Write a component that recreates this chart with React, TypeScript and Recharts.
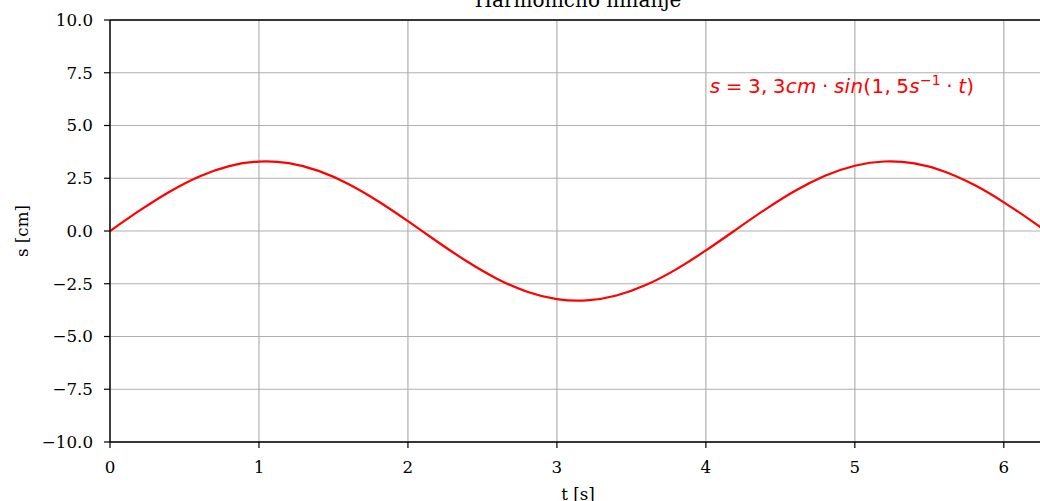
import React from 'react';
import { LineChart, Line, XAxis, YAxis, CartesianGrid, ReferenceLine, ReferenceDot, Label } from 'recharts';

const tValues = [0, 0.2, 0.4, 0.6, 0.8, 1.0, 1.2, 1.4, 1.6, 1.8, 2.0, 2.2, 2.4, 2.6, 2.8, 3.0, 3.2, 3.4, 3.6, 3.8, 4.0, 4.2, 4.4, 4.6, 4.8, 5.0, 5.2, 5.4, 5.6, 5.8, 6.0, 6.2, 6.28];
const sValues = [0, 0.975, 1.863, 2.585, 3.076, 3.292, 3.214, 2.849, 2.229, 1.41, 0.466, -0.521, -1.46, -2.27, -2.876, -3.226, -3.287, -3.055, -2.55, -1.817, -0.922, 0.055, 1.028, 1.909, 2.619, 3.095, 3.295, 3.201, 2.82, 2.188, 1.36, 0.411, 0.0];
const xTicks = [0, 1, 2, 3, 4, 5, 6];
const yTicks = [-10, -7.5, -5, -2.5, 0, 2.5, 5, 7.5, 10];
const titleText = 'Harmonično nihanje';
const xLabelText = 't [s]';
const yLabelText = 's [cm]';
const annotationPos = { t: 4, s: 6.55 };

const data = tValues.map((t, i) => ({ t, s: sValues[i] }));

const SERIF = '"DejaVu Serif", serif';
const SANS = '"DejaVu Sans", sans-serif';
const fmtY = (v: number) => v.toFixed(1).replace('-', '\u2212');
const SP = '\u2005';

export default function App() {
  return (
    <div style={{ position: 'absolute', left: 0, top: 0, width: 1040, height: 501, overflow: 'hidden', background: '#fff' }}>
      <LineChart width={1060} height={501} data={data} margin={{ top: 20, right: 14, bottom: 0, left: 0 }}>
        <CartesianGrid stroke="#b0b0b0" strokeWidth={1.2} />
        <XAxis
          dataKey="t"
          type="number"
          domain={[0, 6.2832]}
          ticks={xTicks}
          allowDataOverflow
          height={59}
          tickSize={6}
          tickMargin={13}
          stroke="#000"
          axisLine={{ stroke: '#000', strokeWidth: 1.4 }}
          tickLine={{ stroke: '#000', strokeWidth: 1.2 }}
          tick={{ fill: '#000', fontFamily: SERIF, fontSize: 16.7 }}
        >
          <Label
            content={(props: any) => {
              const vb = props.viewBox;
              return (
                <text x={vb.x + vb.width / 2} y={vb.y + 58} textAnchor="middle" fontFamily={SERIF} fontSize={16.7} fill="#000">
                  {xLabelText}
                </text>
              );
            }}
          />
        </XAxis>
        <YAxis
          type="number"
          domain={[-10, 10]}
          ticks={yTicks}
          width={110}
          tickSize={6}
          tickMargin={11}
          tickFormatter={fmtY}
          axisLine={{ stroke: '#000', strokeWidth: 1.4 }}
          tickLine={{ stroke: '#000', strokeWidth: 1.2 }}
          tick={{ fill: '#000', fontFamily: SERIF, fontSize: 16.7 }}
        >
          <Label
            content={(props: any) => {
              const vb = props.viewBox;
              const cx = 22;
              const cy = vb.y + vb.height / 2;
              return (
                <text x={cx} y={cy} transform={`rotate(-90 ${cx} ${cy})`} textAnchor="middle" dominantBaseline="central" fontFamily={SERIF} fontSize={16.7} fill="#000">
                  {yLabelText}
                </text>
              );
            }}
          />
        </YAxis>
        <ReferenceLine y={10} stroke="#000" strokeWidth={1.4}>
          <Label
            content={(props: any) => {
              const vb = props.viewBox;
              return (
                <text x={vb.x + vb.width / 2} y={vb.y - 13} textAnchor="middle" fontFamily={SERIF} fontSize={20} fill="#000">
                  {titleText}
                </text>
              );
            }}
          />
        </ReferenceLine>
        <Line type="natural" dataKey="s" stroke="#ff0000" strokeWidth={2.2} dot={false} isAnimationActive={false} />
        <ReferenceDot x={annotationPos.t} y={annotationPos.s} r={1} fill="none" stroke="none">
          <Label
            content={(props: any) => {
              const vb = props.viewBox;
              const x = vb.x + vb.width / 2 + 4;
              const y = vb.y + vb.height / 2;
              return (
                <text x={x} y={y} fontFamily={SANS} fontSize={20} letterSpacing={0.25} fill="#ff0000">
                  <tspan fontStyle="italic">s</tspan>
                  <tspan>{SP + '=' + SP + '3,' + SP + '3'}</tspan>
                  <tspan fontStyle="italic">cm</tspan>
                  <tspan>{SP + '·' + SP}</tspan>
                  <tspan fontStyle="italic">sin</tspan>
                  <tspan>{'(1,' + SP + '5'}</tspan>
                  <tspan fontStyle="italic">s</tspan>
                  <tspan fontSize={14} dy={-8}>{'\u22121'}</tspan>
                  <tspan dy={8}>{SP + '·' + SP}</tspan>
                  <tspan fontStyle="italic">t</tspan>
                  <tspan>)</tspan>
                </text>
              );
            }}
          />
        </ReferenceDot>
      </LineChart>
    </div>
  );
}
